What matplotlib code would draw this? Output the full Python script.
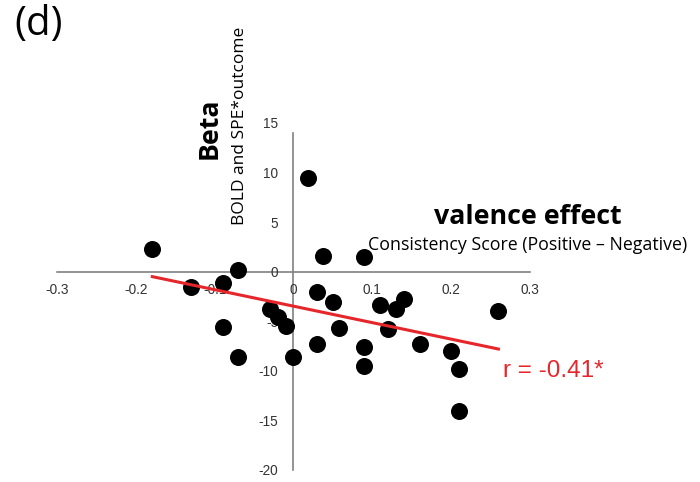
import matplotlib.pyplot as plt
import numpy as np

plt.rcParams['axes.unicode_minus'] = False

# consistency score vs beta
score = [-0.179, 0.019, 0.038, 0.089, -0.130, -0.089, -0.070, -0.089, -0.070,
         -0.030, -0.020, -0.010, 0.000, 0.030, 0.050, 0.058, 0.030, 0.090,
         0.090, 0.110, 0.120, 0.130, 0.140, 0.160, 0.200, 0.210, 0.210, 0.260]
beta = [2.3, 9.4, 1.6, 1.5, -1.5, -1.1, 0.2, -5.6, -8.6,
        -3.8, -4.6, -5.5, -8.6, -2.0, -3.1, -5.7, -7.3, -7.6,
        -9.5, -3.4, -5.8, -3.8, -2.8, -7.3, -8.0, -9.8, -14.0, -4.0]

# regression line end points
fit_x = [-0.179, 0.26]
fit_y = [-0.5, -7.8]

xticks = [-0.3, -0.2, -0.1, 0, 0.1, 0.2, 0.3]
xlabels = ['-0.3', '-0.2', '-0.1', '0', '0.1', '0.2', '0.3']
yticks = [15, 10, 5, 0, -5, -10, -15, -20]

red = '#e5262b'
gray = '#808080'

fig = plt.figure(figsize=(7, 4.82), dpi=100)
ax = fig.add_axes([0.0814, 0.0249, 0.6757, 0.72])

ax.scatter(score, beta, s=150, color='black', zorder=3, linewidths=0)
ax.plot(fit_x, fit_y, color=red, lw=2.2, zorder=4)

ax.set_xlim(-0.3, 0.3)
ax.set_ylim(-20, 15)
for side in ['top', 'right']:
    ax.spines[side].set_visible(False)
ax.spines['left'].set_position(('data', 0))
ax.spines['bottom'].set_position(('data', 0))
ax.spines['left'].set_bounds(-20, 14)
for side in ['left', 'bottom']:
    ax.spines[side].set_color(gray)
    ax.spines[side].set_linewidth(1.2)
    ax.spines[side].set_zorder(1)

ax.set_xticks(xticks)
ax.set_xticklabels(xlabels)
ax.set_yticks(yticks)
ax.tick_params(length=0, labelsize=9.8, labelcolor='#333333')
ax.tick_params(axis='x', pad=8)
ax.tick_params(axis='y', pad=11)
for lab in ax.get_xticklabels() + ax.get_yticklabels():
    lab.set_family('Liberation Sans')
    lab.set_zorder(2)

fig.text(14 / 700, 1 - 25 / 482, '(d)', fontsize=29, family='Open Sans',
         ha='left', va='center')
fig.text(210 / 700, 1 - 128 / 482, 'Beta', fontsize=19.3, family='Open Sans',
         weight='bold', rotation=90, ha='center', va='center')
fig.text(240 / 700, 1 - 126 / 482, 'BOLD and SPE*outcome', fontsize=12.5,
         family='Open Sans', rotation=90, ha='center', va='center')
fig.text(528 / 700, 1 - 217 / 482, 'valence effect', fontsize=19.3,
         family='Open Sans', weight='bold', ha='center', va='center')
fig.text(528 / 700, 1 - 245 / 482, 'Consistency Score (Positive \u2013 Negative)',
         fontsize=12.8, family='Open Sans', ha='center', va='center')
fig.text(503 / 700, 1 - 371 / 482, 'r = -0.41*', fontsize=17.5, color=red,
         family='Liberation Sans', ha='left', va='center')

fig.savefig('out.png')
